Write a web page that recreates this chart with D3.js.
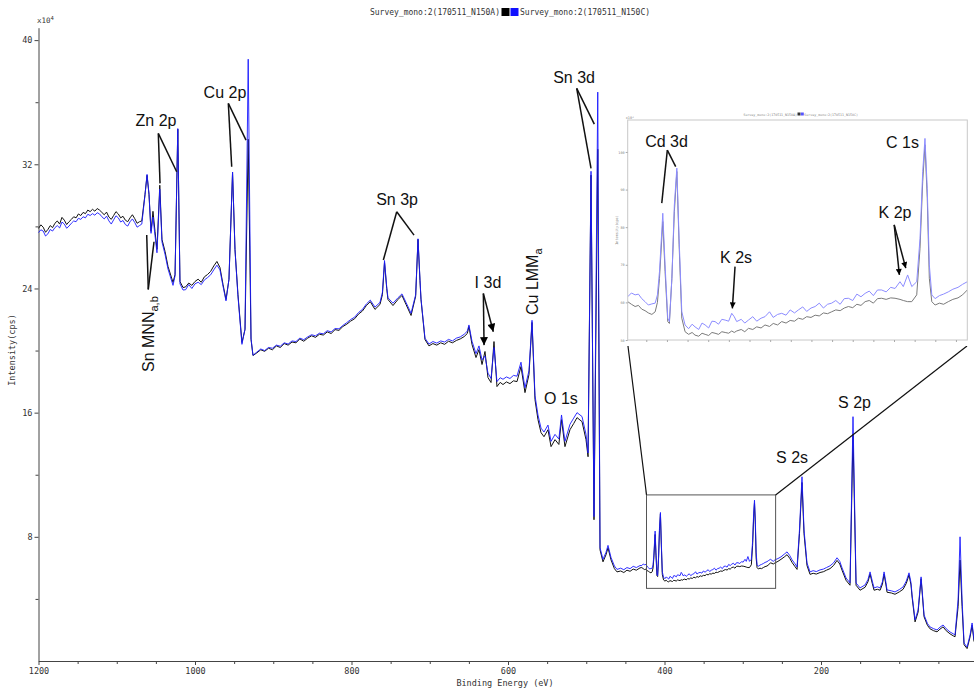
<!DOCTYPE html>
<html><head><meta charset="utf-8">
<script src="https://cdn.jsdelivr.net/npm/d3@7/dist/d3.min.js"></script>
<style>body{margin:0;background:#fff}svg{display:block}</style>
</head><body>
<svg id="c" width="974" height="690"></svg>
<script>
// ---------- DATA (binding energy in eV, intensity in 10^4 cps) ----------
const energy = [
1200,1197,1194,1191,1188,1185,1182,1179,1176,1173,
1170,1167,1164,1161,1158,1155,1152,1149,1146,1143,
1140,1137,1134,1131,1128,1125,1122,1119,1116,1113,
1110,1107,1104,1101,1098,1095,1092,1089,1086,1083,
1080,1077,1074,1071,1068,
1063.9,1061.3,1058.8,1056.2,1053.7,1051.1,1048.6,1045.0,1042.2,1038.3,
1034.5,1028.1,1025.5,1022.0,1019.2,1015.3,
1012,1008,1004,1000,996,992,988,984,980,976,
972,968.1,964.2,960.4,
956.6,952.0,948.9,945.1,940.0,936.1,932.0,928.4,925.9,
921,916,911,906,901,896,891,886,881,876,
871,866,861,856,851,846,841,836,831,826,
821,816,811,806,801,796,791,786,781,776,
770.0,763.6,760.5,757.8,755.0,753.4,747.0,740.6,735.5,730.3,
723.9,718.0,715.0,712.5,711.2,706.1,
701,696,691,686,681,676,671,666,661,656,
652,649.9,646.0,
640.9,637.1,633.2,629.4,625.6,621.7,617.9,614.1,610,606.4,
602,597.5,593,588.5,583.4,578.3,573.2,569.3,565.5,561.7,
557.8,554.0,548.9,545.0,539.9,535.0,531.6,527.2,520.8,516,
511.8,505.4,500.3,497.7,
493.9,490.1,485.3,482.4,478.6,474.8,472.2,468.4,464,460.7,
456,452,448,444,440,436,431.3,
429.0,427.2,425.4,423.8,422.2,420.6,419.0,417.3,415.7,414.6,
413.6,412.0,410.9,409.6,408.8,407.6,406.4,405.2,404.1,402.8,
401.2,399.5,397.8,396.4,394.6,393.0,391.5,389.8,388.2,386.7,
385.0,383.4,381.8,380.1,378.6,377.4,376.2,374.0,372.3,370.5,
368.4,366.5,364.4,362.5,360.3,358.5,356.4,354.4,352.3,350.3,
348.2,346.3,344.2,342.3,340.2,338.2,336.2,334.2,332.2,330.2,
328.2,326.1,324.1,322.1,320.0,318.0,316.0,314.0,312.0,310.0,
308.0,306.0,303.8,301.6,299.5,297.1,295.5,293.4,291.4,289.0,
287.4,286.1,285.0,283.9,282.9,281.7,280.1,278.0,276.0,273.7,
271.5,269.0,266.8,264.5,
261,258.8,255,251.1,247,243.4,240,237.0,233.5,230.6,
227.5,224.3,221.7,217.9,214.0,210,206,201.2,197,193,
188.5,184,179.5,176,173.1,168.0,162.9,159.1,155.2,150.1,
143.7,140,137.3,134.5,132.2,128,124.5,121.5,119.4,117,
115.6,110,105.4,100,95.1,91,87.5,85,83.6,79.8,
75.9,72.1,68.3,64,60.6,56,51.7,48,44.0,40,
35.1,31,28.7,24.8,22.3,19.7,17.2,13.3,9.5,6.9,
4.4];

// Survey_mono:2(170511_N150A) - black
const countsA = [
27.87,28.10,27.95,27.62,27.80,28.05,27.92,28.20,28.35,28.15,
28.58,28.40,28.12,28.30,28.45,28.62,28.55,28.80,28.70,28.90,
28.82,29.05,28.95,29.10,28.98,29.15,29.05,28.90,28.75,28.92,
28.60,28.45,28.70,28.95,28.80,28.55,28.65,28.40,28.30,28.55,
28.75,28.50,28.20,28.30,28.35,
30.06,31.29,30.06,27.68,28.97,27.68,26.52,30.65,27.16,26.39,
25.42,24.39,24.90,34.26,24.45,24.06,
24.10,24.35,24.20,24.45,24.60,24.40,24.75,24.90,25.10,25.45,
25.74,25.35,24.26,23.29,
24.58,31.48,26.52,23.61,20.52,21.35,33.61,20.71,19.68,
19.85,20.05,19.95,20.15,20.05,20.30,20.20,20.45,20.35,20.55,
20.50,20.75,20.60,20.80,20.95,20.85,21.05,21.00,21.20,21.10,
21.35,21.30,21.55,21.70,21.90,22.05,22.35,22.55,22.90,23.15,
22.65,22.97,23.60,25.68,24.00,23.29,22.90,23.29,23.55,22.97,
22.26,23.50,27.16,24.50,23.29,20.71,
20.30,20.45,20.35,20.50,20.40,20.60,20.50,20.65,20.75,20.90,
21.10,21.55,20.39,
19.55,20.06,19.10,19.94,18.26,17.94,20.58,17.68,17.95,17.81,
17.98,17.87,18.05,18.00,18.97,17.29,18.45,21.81,16.84,15.55,
14.71,14.45,14.90,13.81,14.26,13.95,15.55,13.81,14.90,15.30,
15.68,15.42,14.26,13.16,
31.30,9.10,32.97,7.16,6.39,6.84,7.29,6.52,5.95,5.74,
5.80,5.70,5.85,5.78,5.92,5.85,6.00,
6.02,5.95,5.89,5.92,5.82,5.78,5.72,5.68,5.75,6.00,
6.64,8.15,6.82,5.49,5.44,6.64,8.41,9.48,7.53,5.58,
5.22,5.15,5.20,5.13,5.10,5.18,5.15,5.12,5.20,5.18,
5.15,5.22,5.20,5.18,5.24,5.20,5.24,5.28,5.22,5.31,
5.28,5.35,5.32,5.40,5.36,5.44,5.40,5.49,5.45,5.52,
5.50,5.58,5.55,5.62,5.60,5.66,5.64,5.72,5.70,5.75,
5.80,5.78,5.85,5.89,5.86,5.95,5.92,6.02,6.05,5.98,
6.10,6.11,6.08,6.12,6.11,6.08,6.05,6.02,6.02,6.20,
7.44,9.21,10.19,8.77,6.64,6.02,5.93,5.98,5.95,6.02,
6.08,6.12,6.20,6.33,
6.25,6.32,6.42,6.55,6.70,6.85,6.62,6.35,6.10,5.90,
8.20,11.50,8.20,6.15,5.58,5.65,5.60,5.70,5.75,5.85,
5.95,6.15,6.48,6.25,5.85,5.20,4.88,14.60,4.88,4.56,
4.75,5.10,5.60,5.00,4.56,4.62,4.56,4.95,5.60,4.90,
4.43,4.38,4.30,4.45,4.62,5.00,5.55,4.90,4.12,2.52,
3.15,5.30,2.85,2.30,2.07,1.95,1.88,2.05,2.20,1.95,
1.75,1.62,1.56,3.50,6.50,3.50,1.05,0.80,1.55,2.30,
1.25];

// Survey_mono:2(170511_N150C) - blue
const countsC = [
27.60,27.78,27.70,27.38,27.52,27.80,27.70,27.92,28.05,27.90,
28.28,28.15,27.88,28.02,28.20,28.35,28.30,28.52,28.45,28.62,
28.55,28.78,28.70,28.82,28.72,28.88,28.80,28.62,28.48,28.66,
28.35,28.15,28.42,28.68,28.55,28.28,28.38,28.12,28.02,28.30,
28.48,28.25,27.95,28.05,28.15,
30.00,31.35,30.10,27.55,28.60,27.40,26.30,30.40,27.00,26.20,
25.25,24.20,24.80,34.30,24.30,23.90,
23.92,24.25,24.00,24.30,24.40,24.25,24.55,24.70,24.88,25.20,
25.50,25.20,24.15,23.20,
24.60,31.50,26.50,23.50,20.40,21.40,38.77,20.80,19.70,
19.90,20.10,20.00,20.20,20.15,20.35,20.28,20.50,20.42,20.62,
20.58,20.80,20.70,20.88,21.02,20.95,21.12,21.08,21.28,21.20,
21.42,21.40,21.62,21.80,22.00,22.15,22.45,22.65,23.00,23.25,
22.80,23.10,23.75,25.80,24.10,23.40,23.05,23.40,23.65,23.10,
22.40,23.60,27.20,24.60,23.35,20.80,
20.42,20.58,20.48,20.62,20.55,20.72,20.62,20.80,20.88,21.05,
21.25,21.65,20.60,
19.80,20.30,19.40,19.65,18.55,18.20,20.20,18.00,18.25,18.15,
18.30,18.20,18.40,18.35,19.25,17.60,18.70,21.95,17.10,15.85,
15.00,14.75,15.20,14.15,14.60,14.30,15.85,14.15,15.25,15.65,
16.00,15.75,14.60,13.40,
31.55,9.30,36.65,7.30,6.55,7.00,7.45,6.68,6.12,5.90,
5.98,5.88,6.02,5.95,6.10,6.02,6.15,
6.15,6.25,6.20,6.22,6.10,6.02,5.93,5.96,5.98,6.20,
6.82,8.37,7.00,5.58,5.49,6.64,8.59,9.57,7.70,5.75,
5.40,5.30,5.42,5.35,5.28,5.45,5.40,5.32,5.50,5.49,
5.42,5.55,5.53,5.50,5.71,5.62,5.49,5.55,5.45,5.53,
5.62,5.50,5.58,5.62,5.75,5.60,5.68,5.71,5.66,5.80,
5.72,5.80,5.88,5.76,5.85,5.89,5.98,5.85,5.95,5.98,
6.05,5.95,6.10,6.11,6.05,6.22,6.15,6.24,6.30,6.18,
6.33,6.33,6.28,6.40,6.37,6.55,6.42,6.73,6.42,6.55,
7.70,9.48,10.36,9.03,7.00,6.20,6.10,6.18,6.22,6.28,
6.35,6.40,6.48,6.55,
6.42,6.52,6.60,6.71,6.88,7.03,6.80,6.52,6.28,6.06,
8.45,11.87,8.45,6.32,5.74,5.82,5.76,5.87,5.92,6.02,
6.13,6.32,6.65,6.42,6.00,5.35,5.03,15.74,5.03,4.71,
4.90,5.25,5.74,5.15,4.71,4.78,4.71,5.10,5.74,5.05,
4.58,4.52,4.45,4.60,4.77,5.15,5.68,5.05,4.26,2.65,
3.29,5.42,2.97,2.42,2.19,2.08,2.00,2.18,2.32,2.08,
1.87,1.75,1.68,3.94,8.00,3.94,1.16,0.90,1.68,2.45,
1.35];

const seriesNames = ["Survey_mono:2(170511_N150A)", "Survey_mono:2(170511_N150C)"];
const yTicksMajor = [8, 16, 24, 32, 40];
const yTicksMinor = [4, 12, 20, 28, 36];
const xTicksMajor = [1200, 1000, 800, 600, 400, 200];
const xTicksMinor = [1150,1100,1050,950,900,850,750,700,650,550,500,450,350,300,250,150,100,50];
const insetYTicks = [5, 6, 7, 8, 9, 10];
const insetYLabels = ["50", "60", "70", "80", "90", "100"];
const insetXTicks = [420,410,400,390,380,370,360,350,340,330,320,310,300,290,280,270];

// Peak annotations (data coordinates: eV, 10^4 cps)
const labels = [
  {t:"Zn 2p", e:1049.8, v:34.45}, {t:"Cu 2p", e:961.7, v:36.24},
  {t:"Sn 3p", e:741.8, v:29.37}, {t:"I 3d", e:625.6, v:24.01},
  {t:"Sn 3d", e:515.6, v:37.21}, {t:"O 1s", e:532.3, v:16.55},
  {t:"S 2s", e:237.0, v:12.73}, {t:"S 2p", e:157.2, v:16.28}
];
const rotLabels = [
  {t:"Sn MNN", sub:"a,b", e:1052.4, v:18.62},
  {t:"Cu LMM", sub:"a", e:562.3, v:22.29}
];
const pointerLines = [
  [[1046.9,33.99],[1044.7,30.77]], [[1046.9,33.99],[1023.4,31.52]],
  [[957.4,35.92],[953.1,31.84]], [[957.4,35.92],[934.8,33.56]],
  [[512.2,36.89],[493.9,31.74]], [[512.2,36.89],[489.7,34.59]],
  [[742.2,28.94],[759.3,25.83]], [[742.2,28.94],[720.1,27.44]],
  [[1059.7,23.94],[1061.7,27.44]], [[1059.7,23.94],[1052.4,27.01]]
];
const pointerArrows = [
  [[631.5,23.68],[630.6,20.35]], [[631.5,23.68],[618.8,21.21]]
];
const zoomBox = {e0:423, e1:258, v0:4.68, v1:10.7};
const insetLabels = [
  {t:"Cd 3d", e:410.2, v:10.14}, {t:"K 2s", e:376.5, v:7.05},
  {t:"K 2p", e:299.5, v:8.24}, {t:"C 1s", e:295.9, v:10.11}
];
const insetLines = [
  [[409.8,10.05],[412.5,8.64]], [[409.8,10.05],[405.75,9.61]]
];
const insetArrows = [
  [[377.0,6.95],[378.3,5.84]],
  [[299.9,8.06],[297.4,6.73]], [[299.9,8.06],[294.3,6.91]]
];

// ---------- DRAWING ----------
const svg = d3.select("#c");
const mono = "'DejaVu Sans Mono', monospace";
const sans = "'Liberation Sans', Arial, sans-serif";
const n = Math.min(energy.length, countsA.length, countsC.length);
const data = energy.slice(0, n).map((e, i) => ({e, a: countsA[i], c: countsC[i]}));

const x = d3.scaleLinear().domain([1200, 0]).range([38.5, 977.5]);
const y = d3.scaleLinear().domain([0, 40.8]).range([661, 27.7]);

const defs = svg.append("defs");
[["arr", 9, 8], ["arrS", 7, 6]].forEach(([id, w, h]) => {
  defs.append("marker").attr("id", id)
    .attr("viewBox", "0 0 10 10").attr("refX", 10).attr("refY", 5)
    .attr("markerWidth", w).attr("markerHeight", h).attr("markerUnits", "userSpaceOnUse")
    .attr("orient", "auto")
    .append("path").attr("d", "M0,0 L10,5 L0,10 z").attr("fill", "#000");
});

// legend
const lg = svg.append("g").attr("font-family", mono).attr("font-size", 8).attr("fill", "#333");
lg.append("text").attr("x", 500).attr("y", 15).attr("text-anchor", "end").text(seriesNames[0]);
lg.append("rect").attr("x", 501.5).attr("y", 8).attr("width", 8).attr("height", 8).attr("fill", "#000");
lg.append("rect").attr("x", 510.5).attr("y", 8).attr("width", 8).attr("height", 8).attr("fill", "#1010ff");
lg.append("text").attr("x", 520).attr("y", 15).text(seriesNames[1]);

// axes
function styleAxis(g) {
  g.selectAll("path,line").attr("stroke", "#444");
  g.selectAll("text").attr("font-family", mono).attr("font-size", 8.5).attr("fill", "#333");
}
svg.append("g").attr("transform", "translate(38.5,0)")
  .call(d3.axisLeft(y).tickValues(yTicksMajor).tickSize(4).tickSizeOuter(0).tickPadding(2).tickFormat(d3.format("d")))
  .call(styleAxis);
svg.append("g").attr("transform", "translate(38.5,0)")
  .call(d3.axisLeft(y).tickValues(yTicksMinor).tickSize(3).tickSizeOuter(0).tickFormat(""))
  .call(g => g.select(".domain").remove()).call(styleAxis);
svg.append("g").attr("transform", "translate(0,661)")
  .call(d3.axisBottom(x).tickValues(xTicksMajor).tickSize(4).tickSizeOuter(0).tickPadding(3).tickFormat(d3.format("d")))
  .call(styleAxis);
svg.append("g").attr("transform", "translate(0,661)")
  .call(d3.axisBottom(x).tickValues(xTicksMinor).tickSize(3).tickSizeOuter(0).tickFormat(""))
  .call(g => g.select(".domain").remove()).call(styleAxis);

const sx = svg.append("text").attr("x", 37).attr("y", 23).attr("font-family", mono)
  .attr("font-size", 7.5).attr("fill", "#333").text("x10");
sx.append("tspan").attr("dy", -3).attr("font-size", 5.5).text("4");
svg.append("text").attr("transform", "translate(15,350) rotate(-90)").attr("text-anchor", "middle")
  .attr("font-family", mono).attr("font-size", 8.5).attr("fill", "#333").text("Intensity(cps)");
svg.append("text").attr("x", 505).attr("y", 686).attr("text-anchor", "middle")
  .attr("font-family", mono).attr("font-size", 8.5).attr("fill", "#333").text("Binding Energy (eV)");

// spectra
const lineA = d3.line().x(d => x(d.e)).y(d => y(d.a));
const lineC = d3.line().x(d => x(d.e)).y(d => y(d.c));
svg.append("path").datum(data).attr("d", lineA).attr("fill", "none").attr("stroke", "#111").attr("stroke-width", 1);
svg.append("path").datum(data).attr("d", lineC).attr("fill", "none").attr("stroke", "#1a1aff").attr("stroke-width", 1).attr("opacity", 0.9);

// annotations
const ann = svg.append("g");
labels.forEach(l => ann.append("text").attr("x", x(l.e)).attr("y", y(l.v)).attr("text-anchor", "middle")
  .attr("font-family", sans).attr("font-size", 16).attr("fill", "#111").text(l.t));
rotLabels.forEach(l => {
  const t = ann.append("text").attr("transform", `translate(${x(l.e)},${y(l.v)}) rotate(-90)`)
    .attr("font-family", sans).attr("font-size", 16).attr("fill", "#111").text(l.t);
  t.append("tspan").attr("dy", 4).attr("font-size", 11).text(l.sub);
});
pointerLines.forEach(p => ann.append("line").attr("x1", x(p[0][0])).attr("y1", y(p[0][1]))
  .attr("x2", x(p[1][0])).attr("y2", y(p[1][1])).attr("stroke", "#111").attr("stroke-width", 1.5));
pointerArrows.forEach(p => ann.append("line").attr("x1", x(p[0][0])).attr("y1", y(p[0][1]))
  .attr("x2", x(p[1][0])).attr("y2", y(p[1][1])).attr("stroke", "#111").attr("stroke-width", 1.5)
  .attr("marker-end", "url(#arr)"));

// zoom box & connectors
const inset = {x0: 627.7, x1: 967.3, y0: 120, y1: 340};
svg.append("rect").attr("x", x(zoomBox.e0)).attr("y", y(zoomBox.v1))
  .attr("width", x(zoomBox.e1) - x(zoomBox.e0)).attr("height", y(zoomBox.v0) - y(zoomBox.v1))
  .attr("fill", "none").attr("stroke", "#555").attr("stroke-width", 1);
svg.append("line").attr("x1", x(zoomBox.e0)).attr("y1", y(zoomBox.v1)).attr("x2", 628).attr("y2", 346)
  .attr("stroke", "#111").attr("stroke-width", 1.2);
svg.append("line").attr("x1", x(zoomBox.e1)).attr("y1", y(zoomBox.v1)).attr("x2", 967).attr("y2", 346)
  .attr("stroke", "#111").attr("stroke-width", 1.2);

// inset
const ig = svg.append("g");
ig.append("rect").attr("x", 614).attr("y", 108).attr("width", 358).attr("height", 238).attr("fill", "#fff");
const xi = d3.scaleLinear().domain([429, 264.5]).range([inset.x0, inset.x1]);
const yi = d3.scaleLinear().domain([5, 10.85]).range([inset.y1, inset.y0]);
ig.append("clipPath").attr("id", "ic").append("rect").attr("x", inset.x0).attr("y", inset.y0)
  .attr("width", inset.x1 - inset.x0).attr("height", inset.y1 - inset.y0);
const idata = data.filter(d => d.e <= 429.01 && d.e >= 264.49);
const ilA = d3.line().x(d => xi(d.e)).y(d => yi(d.a));
const ilC = d3.line().x(d => xi(d.e)).y(d => yi(d.c));
ig.append("path").datum(idata).attr("d", ilA).attr("clip-path", "url(#ic)").attr("fill", "none").attr("stroke", "#7a7a7a").attr("stroke-width", 1);
ig.append("path").datum(idata).attr("d", ilC).attr("clip-path", "url(#ic)").attr("fill", "none").attr("stroke", "#8c8cff").attr("stroke-width", 1);
ig.append("rect").attr("x", inset.x0).attr("y", inset.y0).attr("width", inset.x1 - inset.x0)
  .attr("height", inset.y1 - inset.y0).attr("fill", "none").attr("stroke", "#c8c8c8").attr("stroke-width", 1);
function styleInset(g) {
  g.selectAll("path,line").attr("stroke", "#aaa");
  g.selectAll("text").attr("font-family", mono).attr("font-size", 3.5).attr("fill", "#888");
}
ig.append("g").attr("transform", `translate(${inset.x0},0)`)
  .call(d3.axisLeft(yi).tickValues(insetYTicks).tickSize(2).tickSizeOuter(0).tickPadding(1).tickFormat((d, i) => insetYLabels[i]))
  .call(g => g.select(".domain").remove()).call(styleInset);
ig.append("g").attr("transform", `translate(0,${inset.y1})`)
  .call(d3.axisBottom(xi).tickValues(insetXTicks).tickSize(2).tickSizeOuter(0).tickFormat(""))
  .call(g => g.select(".domain").remove()).call(styleInset);
ig.append("text").attr("x", inset.x0 - 2).attr("y", inset.y0 - 1).attr("font-family", mono)
  .attr("font-size", 3.5).attr("fill", "#888").text("x10³");
ig.append("text").attr("transform", `translate(618,${(inset.y0 + inset.y1) / 2}) rotate(-90)`)
  .attr("text-anchor", "middle").attr("font-family", mono).attr("font-size", 3.5).attr("fill", "#888").text("Intensity(cps)");
const ilg = ig.append("g").attr("font-family", mono).attr("font-size", 3.3).attr("fill", "#888");
ilg.append("text").attr("x", 797).attr("y", 115.5).attr("text-anchor", "end").text(seriesNames[0]);
ilg.append("rect").attr("x", 797.5).attr("y", 112.5).attr("width", 3).attr("height", 3).attr("fill", "#333");
ilg.append("rect").attr("x", 800.8).attr("y", 112.5).attr("width", 3).attr("height", 3).attr("fill", "#55f");
ilg.append("text").attr("x", 804.3).attr("y", 115.5).text(seriesNames[1]);

insetLabels.forEach(l => ig.append("text").attr("x", xi(l.e)).attr("y", yi(l.v)).attr("text-anchor", "middle")
  .attr("font-family", sans).attr("font-size", 16).attr("fill", "#111").text(l.t));
insetLines.forEach(p => ig.append("line").attr("x1", xi(p[0][0])).attr("y1", yi(p[0][1]))
  .attr("x2", xi(p[1][0])).attr("y2", yi(p[1][1])).attr("stroke", "#111").attr("stroke-width", 1.5));
insetArrows.forEach(p => ig.append("line").attr("x1", xi(p[0][0])).attr("y1", yi(p[0][1]))
  .attr("x2", xi(p[1][0])).attr("y2", yi(p[1][1])).attr("stroke", "#111").attr("stroke-width", 1.5)
  .attr("marker-end", "url(#arrS)"));
</script>
</body></html>
